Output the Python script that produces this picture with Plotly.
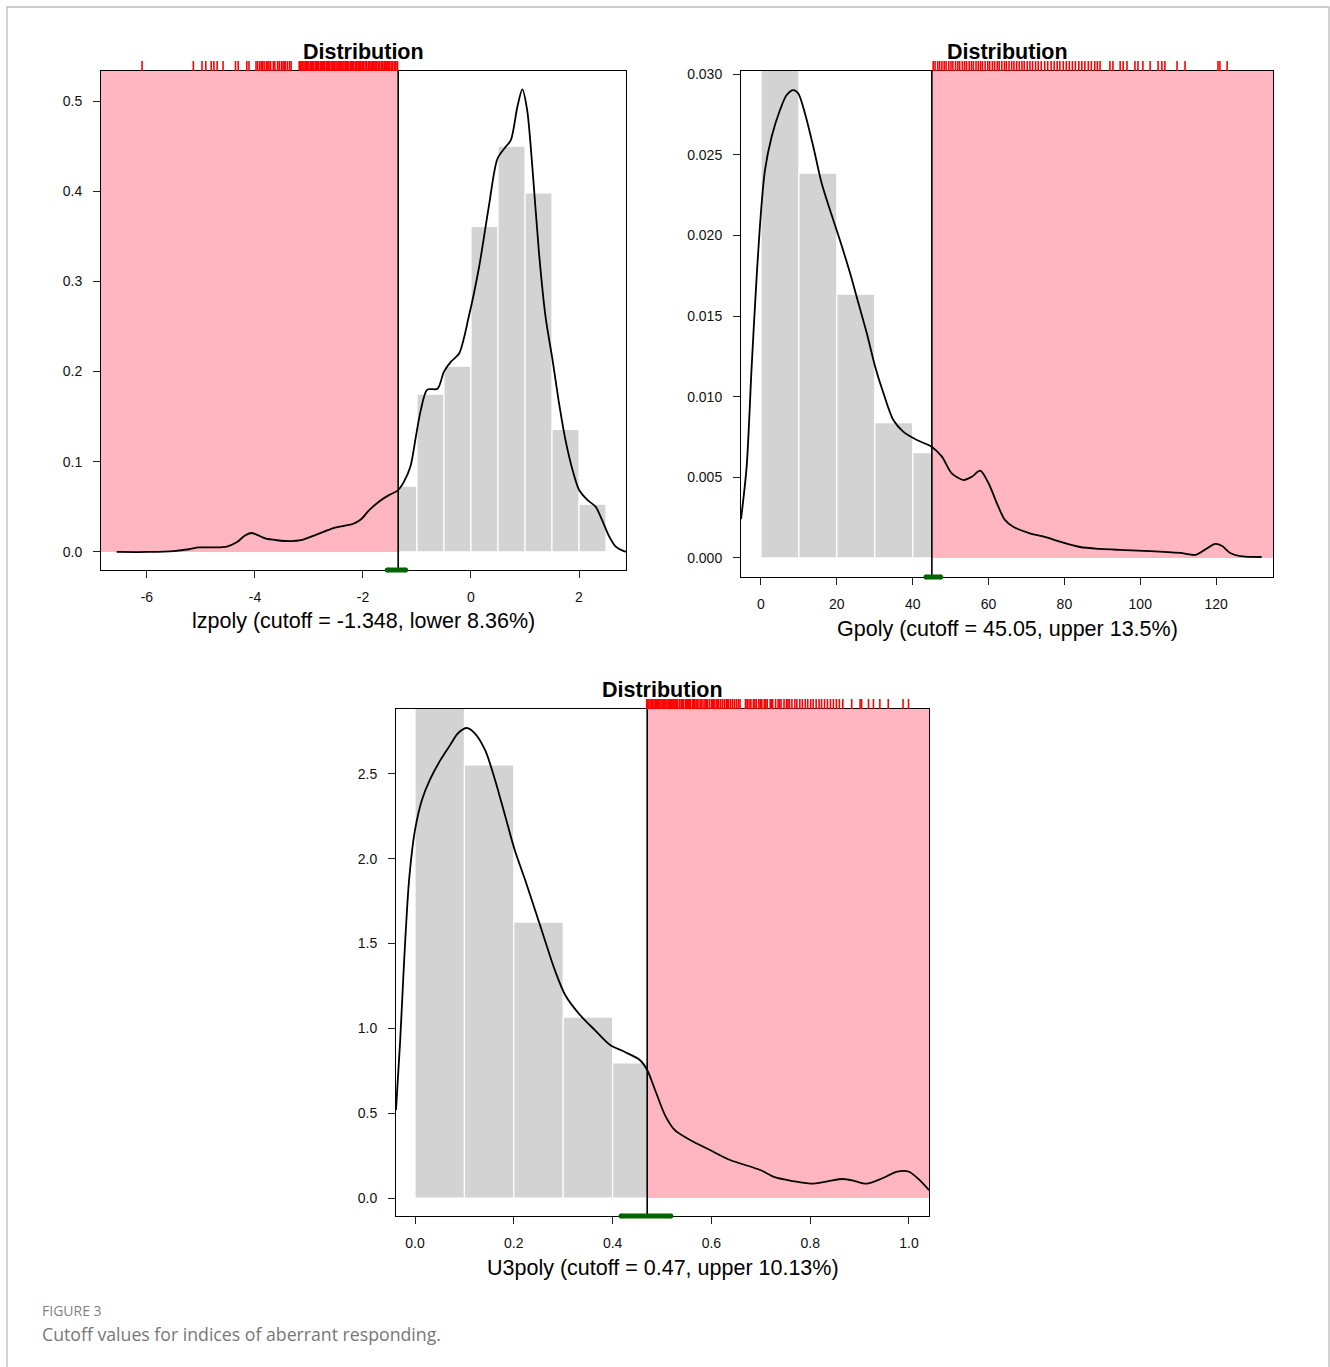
import plotly.graph_objects as go

W, H = 1330, 1367

# ---------------- lzpoly ----------------
lz_cut = -1.348
lz_ci = [-1.55, -1.21]
lz_bin_left = [-1.5, -1.0, -0.5, 0.0, 0.5, 1.0, 1.5, 2.0]
lz_bin_width = 0.5
lz_hist = [0.073, 0.175, 0.206, 0.361, 0.450, 0.398, 0.136, 0.053]
lz_dens_x = [-6.56, -5.96, -5.50, -5.22, -5.04, -4.76, -4.52, -4.33, -4.19, -4.07, -3.96,
             -3.81, -3.59, -3.33, -3.15, -2.96, -2.74, -2.52, -2.35, -2.19, -2.04, -1.89,
             -1.70, -1.52, -1.36, -1.24, -1.12, -1.02, -0.93, -0.81, -0.62, -0.50, -0.37,
             -0.22, -0.04, 0.15, 0.33, 0.49, 0.64, 0.74, 0.86, 0.95, 1.04, 1.14, 1.26,
             1.38, 1.51, 1.63, 1.75, 1.88, 2.00, 2.15, 2.31, 2.43, 2.56, 2.68, 2.83, 2.90]
lz_dens_y = [0.000, 0.000, 0.001, 0.003, 0.005, 0.005, 0.006, 0.011, 0.018, 0.021, 0.019,
             0.015, 0.013, 0.012, 0.013, 0.017, 0.022, 0.027, 0.029, 0.031, 0.036, 0.046,
             0.056, 0.063, 0.068, 0.078, 0.095, 0.128, 0.157, 0.180, 0.181, 0.200, 0.211,
             0.220, 0.261, 0.316, 0.383, 0.436, 0.449, 0.457, 0.494, 0.513, 0.490, 0.424, 0.331,
             0.261, 0.213, 0.165, 0.124, 0.091, 0.069, 0.058, 0.050, 0.035, 0.017, 0.006, 0.001, 0.000]
lz_rug = [-6.09, -5.14, -4.98, -4.91, -4.81, -4.76, -4.70, -4.59, -4.36, -4.31, -4.15, -4.11,
          -3.98, -3.95, -3.91, -3.88, -3.86, -3.83, -3.79, -3.76, -3.74, -3.71, -3.66, -3.63,
          -3.58, -3.55, -3.51, -3.48, -3.46, -3.44, -3.40, -3.36, -3.33, -3.18, -3.16, -3.15,
          -3.13, -3.11, -3.09, -3.06, -3.04, -3.02, -3.00, -2.97, -2.95, -2.93, -2.91, -2.88,
          -2.86, -2.84, -2.82, -2.79, -2.77, -2.75, -2.73, -2.71, -2.68, -2.66, -2.64, -2.62,
          -2.59, -2.57, -2.55, -2.53, -2.50, -2.48, -2.46, -2.44, -2.41, -2.39, -2.37, -2.35,
          -2.32, -2.30, -2.28, -2.26, -2.23, -2.21, -2.19, -2.17, -2.14, -2.12, -2.11, -2.08,
          -2.06, -2.05, -2.02, -2.00, -1.99, -1.96, -1.94, -1.93, -1.90, -1.88, -1.87, -1.84,
          -1.82, -1.81, -1.78, -1.76, -1.75, -1.72, -1.70, -1.69, -1.66, -1.64, -1.63, -1.60,
          -1.58, -1.57, -1.54, -1.52, -1.51, -1.48, -1.46, -1.45, -1.42, -1.40, -1.39, -1.36]
lz_xticks = [-6, -4, -2, 0, 2]
lz_xlabels = ["-6", "-4", "-2", "0", "2"]
lz_yticks = [0.0, 0.1, 0.2, 0.3, 0.4, 0.5]
lz_ylabels = ["0.0", "0.1", "0.2", "0.3", "0.4", "0.5"]

# ---------------- Gpoly ----------------
g_cut = 45.05
g_ci = [43.5, 47.4]
g_bin_left = [0, 10, 20, 30, 40]
g_bin_width = 10
g_hist = [0.0335, 0.02385, 0.01636, 0.00839, 0.00653]
g_dens_x = [-5.27, -3.78, -2.46, -1.14, 0.18, 1.05, 2.81, 5.01, 6.77, 8.52, 9.84, 11.6,
            13.8, 16.0, 18.2, 20.8, 23.5, 25.7, 27.9, 30.1, 32.3, 34.9, 37.5, 41.1, 45.0,
            47.7, 50.3, 53.4, 55.6, 57.8, 60.0, 62.2, 64.3, 66.5, 70.9, 75.3, 78.8, 84.1,
            89.4, 94.7, 102.6, 110.5, 114.5, 117.0, 119.8, 121.6, 123.7, 126.3, 132.0]
g_dens_y = [0.0024, 0.00566, 0.01186, 0.01744, 0.02199, 0.02405, 0.02611, 0.02777, 0.02870,
            0.02901, 0.02880, 0.02756, 0.02549, 0.02323, 0.02157, 0.01971, 0.01765, 0.01579,
            0.01393, 0.01186, 0.01021, 0.00855, 0.00783, 0.00731, 0.00690, 0.00628, 0.00525,
            0.00483, 0.00504, 0.00541, 0.00463, 0.00339, 0.00236, 0.00194, 0.00153, 0.00128,
            0.00101, 0.00068, 0.00056, 0.00050, 0.00043, 0.00031, 0.00019, 0.00050, 0.00087,
            0.00074, 0.00031, 0.00012, 0.00006]
g_rug = [45.4, 45.9, 46.6, 47.1, 47.7, 48.3, 48.8, 49.5, 50.1, 50.6, 51.3, 51.9, 52.4, 53.1,
         53.7, 54.2, 54.9, 55.5, 56.0, 56.7, 57.3, 57.9, 58.4, 59.1, 59.8, 60.3, 61.0, 61.6,
         62.3, 62.8, 63.5, 64.2, 64.7, 65.4, 66.1, 66.7, 67.4, 68.1, 68.8, 69.4, 70.2, 70.9,
         71.6, 72.4, 73.1, 73.9, 74.8, 75.6, 76.5, 77.3, 78.1, 78.8, 79.7, 80.5, 81.3, 82.1,
         82.9, 83.8, 84.6, 85.4, 86.3, 87.1, 88.0, 88.7, 89.4, 92.0, 92.8, 94.7, 95.5, 96.5,
         98.6, 99.4, 100.7, 102.6, 104.7, 105.7, 106.5, 109.7, 111.8, 120.5, 121.0, 122.9]
g_xticks = [0, 20, 40, 60, 80, 100, 120]
g_xlabels = ["0", "20", "40", "60", "80", "100", "120"]
g_yticks = [0.000, 0.005, 0.010, 0.015, 0.020, 0.025, 0.030]
g_ylabels = ["0.000", "0.005", "0.010", "0.015", "0.020", "0.025", "0.030"]

# ---------------- U3poly ----------------
u_cut = 0.47
u_ci = [0.417, 0.518]
u_bin_left = [0.0, 0.1, 0.2, 0.3, 0.4]
u_bin_width = 0.1
u_hist = [3.15, 2.553, 1.627, 1.067, 0.796]
u_dens_x = [-0.0385, -0.030, -0.022, -0.012, 0.000, 0.014, 0.030, 0.051, 0.071, 0.087,
            0.105, 0.121, 0.142, 0.162, 0.182, 0.202, 0.223, 0.243, 0.263, 0.283, 0.304,
            0.334, 0.364, 0.395, 0.425, 0.455, 0.470, 0.486, 0.506, 0.526, 0.557, 0.597,
            0.638, 0.699, 0.728, 0.765, 0.801, 0.835, 0.866, 0.890, 0.914, 0.945, 0.976,
            1.000, 1.020, 1.0405]
u_dens_y = [0.519, 0.930, 1.400, 1.875, 2.170, 2.347, 2.465, 2.580, 2.670, 2.740,
            2.771, 2.740, 2.640, 2.465, 2.258, 2.050, 1.875, 1.698, 1.520, 1.344, 1.197,
            1.079, 0.990, 0.902, 0.861, 0.814, 0.755, 0.637, 0.489, 0.400, 0.342, 0.283,
            0.224, 0.165, 0.123, 0.100, 0.085, 0.098, 0.112, 0.100, 0.085, 0.115, 0.155,
            0.155, 0.110, 0.047]
u_rug = [0.469, 0.471, 0.473, 0.476, 0.478, 0.480, 0.482, 0.484, 0.487, 0.489, 0.491,
         0.493, 0.495, 0.498, 0.500, 0.502, 0.504, 0.506, 0.508, 0.510, 0.513, 0.515,
         0.517, 0.519, 0.521, 0.524, 0.526, 0.528, 0.530, 0.532, 0.536, 0.539, 0.541,
         0.543, 0.547, 0.549, 0.551, 0.554, 0.556, 0.558, 0.562, 0.564, 0.566, 0.569,
         0.571, 0.573, 0.577, 0.579, 0.581, 0.585, 0.588, 0.590, 0.592, 0.596, 0.600,
         0.602, 0.604, 0.607, 0.611, 0.613, 0.615, 0.619, 0.623, 0.627, 0.631, 0.633,
         0.635, 0.639, 0.643, 0.647, 0.651, 0.655, 0.658, 0.669, 0.672, 0.674, 0.678,
         0.680, 0.685, 0.688, 0.691, 0.696, 0.699, 0.702, 0.707, 0.710, 0.713, 0.719,
         0.722, 0.724, 0.730, 0.735, 0.738, 0.741, 0.747, 0.752, 0.755, 0.758, 0.763,
         0.769, 0.773, 0.779, 0.784, 0.790, 0.795, 0.801, 0.806, 0.812, 0.818, 0.823,
         0.829, 0.835, 0.841, 0.847, 0.853, 0.859, 0.866, 0.884, 0.901, 0.904, 0.918,
         0.928, 0.941, 0.958, 0.988, 0.999]
u_xticks = [0.0, 0.2, 0.4, 0.6, 0.8, 1.0]
u_xlabels = ["0.0", "0.2", "0.4", "0.6", "0.8", "1.0"]
u_yticks = [0.0, 0.5, 1.0, 1.5, 2.0, 2.5]
u_ylabels = ["0.0", "0.5", "1.0", "1.5", "2.0", "2.5"]

# Panel settings: data, axis ranges and pixel boxes (left, top, right, bottom)
panels = [
    dict(cut=lz_cut, ci=lz_ci, side="lower", bins=lz_bin_left, bw=lz_bin_width, hist=lz_hist,
         dx=lz_dens_x, dy=lz_dens_y, rug=lz_rug,
         xticks=lz_xticks, xlabels=lz_xlabels, yticks=lz_yticks, ylabels=lz_ylabels,
         xr=[-6.85, 2.87], yr=[-0.0200, 0.5333], box=(101, 71, 626, 570),
         label="lzpoly (cutoff = -1.348, lower 8.36%)", label_y=621),
    dict(cut=g_cut, ci=g_ci, side="upper", bins=g_bin_left, bw=g_bin_width, hist=g_hist,
         dx=g_dens_x, dy=g_dens_y, rug=g_rug,
         xticks=g_xticks, xlabels=g_xlabels, yticks=g_yticks, ylabels=g_ylabels,
         xr=[-5.27, 135.0], yr=[-0.00118, 0.03019], box=(741, 71, 1273, 577),
         label="Gpoly (cutoff = 45.05, upper 13.5%)", label_y=629),
    dict(cut=u_cut, ci=u_ci, side="upper", bins=u_bin_left, bw=u_bin_width, hist=u_hist,
         dx=u_dens_x, dy=u_dens_y, rug=u_rug,
         xticks=u_xticks, xlabels=u_xlabels, yticks=u_yticks, ylabels=u_ylabels,
         xr=[-0.0385, 1.0405], yr=[-0.106, 2.883], box=(396, 709, 929, 1216),
         label="U3poly (cutoff = 0.47, upper 10.13%)", label_y=1268),
]

FONT = "Liberation Sans, Arial, Helvetica, sans-serif"
PINK = "#FFB6C1"
GREY = "#D3D3D3"


def px(x):
    return x / W


def py(y):
    return 1 - y / H


fig = go.Figure()
layout = dict(
    width=W, height=H, margin=dict(l=0, r=0, t=0, b=0, pad=0, autoexpand=False),
    paper_bgcolor="white", plot_bgcolor="rgba(0,0,0,0)",
    showlegend=False, font=dict(family=FONT, color="black"),
    annotations=[], shapes=[],
)

for i, p in enumerate(panels):
    k = i + 1
    kr = i + 4   # rug strip axes
    kg = i + 7   # cutoff interval strip axes
    L, T, R, B = p["box"]
    xa, ya = f"x{k}" if k > 1 else "x", f"y{k}" if k > 1 else "y"
    xname, yname = ("xaxis" if k == 1 else f"xaxis{k}"), ("yaxis" if k == 1 else f"yaxis{k}")

    layout[xname] = dict(
        domain=[px(L), px(R)], range=p["xr"], anchor=ya, automargin=False,
        showline=True, linecolor="black", linewidth=1, mirror=True,
        ticks="outside", ticklen=7, tickwidth=1, tickcolor="#222",
        tickvals=p["xticks"], ticktext=p["xlabels"], ticklabelstandoff=7,
        tickfont=dict(size=14, family=FONT, color="#111"),
        showgrid=False, zeroline=False,
    )
    layout[yname] = dict(
        domain=[py(B), py(T)], range=p["yr"], anchor=xa, automargin=False,
        showline=True, linecolor="black", linewidth=1, mirror=True,
        ticks="outside", ticklen=7, tickwidth=1, tickcolor="#222",
        tickvals=p["yticks"], ticktext=p["ylabels"], ticklabelstandoff=8,
        tickfont=dict(size=14, family=FONT, color="#111"),
        showgrid=False, zeroline=False,
    )
    # rug strip above the panel
    layout[f"xaxis{kr}"] = dict(domain=[px(L), px(R)], matches=xa, anchor=f"y{kr}",
                                visible=False, automargin=False)
    layout[f"yaxis{kr}"] = dict(domain=[py(T), py(T - 10)], range=[0, 1], anchor=f"x{kr}",
                                visible=False, automargin=False)
    # strip across the bottom edge for the cutoff interval
    layout[f"xaxis{kg}"] = dict(domain=[px(L), px(R)], matches=xa, anchor=f"y{kg}",
                                visible=False, automargin=False)
    layout[f"yaxis{kg}"] = dict(domain=[py(B + 8), py(B - 8)], range=[-1, 1], anchor=f"x{kg}",
                                visible=False, automargin=False)

    # histogram of the retained side
    fig.add_trace(go.Bar(
        x=[b + p["bw"] / 2 for b in p["bins"]], y=p["hist"], width=p["bw"],
        marker=dict(color=GREY, line=dict(color="white", width=1.2)),
        xaxis=xa, yaxis=ya, hoverinfo="skip",
    ))
    # flagged region
    x_edge = p["xr"][0] if p["side"] == "lower" else p["xr"][1]
    fig.add_trace(go.Scatter(
        x=[p["cut"], p["cut"], x_edge, x_edge, p["cut"]],
        y=[0, p["yr"][1], p["yr"][1], 0, 0],
        fill="toself", fillcolor=PINK, mode="lines", line=dict(width=0),
        xaxis=xa, yaxis=ya, hoverinfo="skip",
    ))
    # density curve
    fig.add_trace(go.Scatter(
        x=p["dx"], y=p["dy"], mode="lines",
        line=dict(color="black", width=1.8, shape="spline", smoothing=0.8),
        xaxis=xa, yaxis=ya, hoverinfo="skip",
    ))
    # cutoff line
    fig.add_trace(go.Scatter(
        x=[p["cut"], p["cut"]], y=p["yr"], mode="lines", line=dict(color="black", width=1.6),
        xaxis=xa, yaxis=ya, hoverinfo="skip",
    ))
    # rug of flagged observations
    rx, ry = [], []
    for v in p["rug"]:
        rx += [v, v, None]
        ry += [0, 1, None]
    fig.add_trace(go.Scatter(
        x=rx, y=ry, mode="lines", line=dict(color="#FF0000", width=1.6),
        xaxis=f"x{kr}", yaxis=f"y{kr}", hoverinfo="skip",
    ))
    # cutoff interval
    fig.add_trace(go.Scatter(
        x=p["ci"], y=[0, 0], mode="lines+markers", line=dict(color="#006400", width=5),
        marker=dict(color="#006400", size=5),
        xaxis=f"x{kg}", yaxis=f"y{kg}", hoverinfo="skip",
    ))

    layout["annotations"].append(dict(
        text="<b>Distribution</b>", x=px((L + R) / 2), y=py(52 if i < 2 else 690),
        xref="paper", yref="paper", xanchor="center", yanchor="middle", showarrow=False,
        font=dict(size=21.5, family=FONT, color="black"),
    ))
    layout["annotations"].append(dict(
        text=p["label"], x=px((L + R) / 2), y=py(p["label_y"]),
        xref="paper", yref="paper", xanchor="center", yanchor="middle", showarrow=False,
        font=dict(size=21.5, family=FONT, color="black"),
    ))

# caption
layout["annotations"].append(dict(
    text="FIGURE 3", x=px(40), y=py(1310), xref="paper", yref="paper",
    xanchor="left", yanchor="middle", showarrow=False,
    font=dict(size=14, family="Open Sans, sans-serif", color="#7f7f7f"),
))
layout["annotations"].append(dict(
    text="Cutoff values for indices of aberrant responding.", x=px(40), y=py(1334),
    xref="paper", yref="paper", xanchor="left", yanchor="middle", showarrow=False,
    font=dict(size=17.7, family="Open Sans, sans-serif", color="#777777"),
))

# page frame
layout["shapes"].append(dict(
    type="rect", xref="paper", yref="paper",
    x0=px(7), x1=px(1329), y0=py(1400), y1=py(7),
    line=dict(color="#bcbcbc", width=1.3), fillcolor="rgba(0,0,0,0)", layer="below",
))

fig.update_layout(**layout)
fig.write_html("out.html")
